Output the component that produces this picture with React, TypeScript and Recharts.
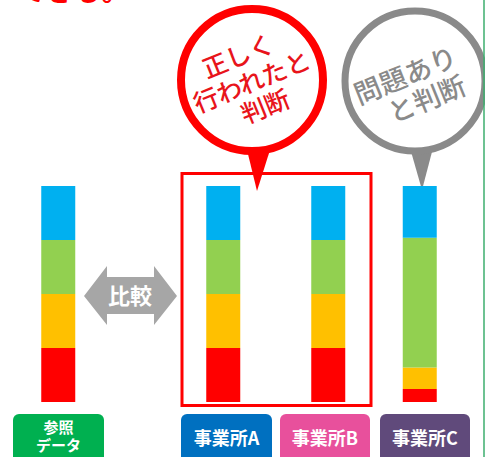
import { BarChart, Bar, XAxis, YAxis } from "recharts"

// four sites, drawn left to right
const sites = ["参照データ", "事業所A", "事業所B", "事業所C"]
// horizontal centre of each column (px on a 0..485 axis)
const sitePos = [58, 223, 328, 419.5]

// shares per column, bottom to top
const redShare = [25, 25, 25, 6]
const orangeShare = [25, 25, 25, 10]
const greenShare = [25, 25, 25, 60]
const blueShare = [25, 25, 25, 24]

const data = sites.map((name, i) => ({
  name,
  pos: sitePos[i],
  red: redShare[i],
  orange: orangeShare[i],
  green: greenShare[i],
  blue: blueShare[i],
}))

const COLORS = {
  red: "#FF0000",
  orange: "#FFC000",
  green: "#92D050",
  blue: "#00B0F0",
}

const FONT = '"Noto Sans CJK JP", "Noto Sans", sans-serif'

const badges = [
  { lines: ["参照", "データ"], x: 13, w: 91, fill: "#00B050" },
  { lines: ["事業所A"], x: 181, w: 91, fill: "#0070C0" },
  { lines: ["事業所B"], x: 280, w: 90, fill: "#E8509C" },
  { lines: ["事業所C"], x: 380, w: 90, fill: "#604A7B" },
]

function Badge({ lines, x, w, fill }: { lines: string[]; x: number; w: number; fill: string }) {
  const cx = x + w / 2
  return (
    <g>
      <rect x={x} y={414} width={w} height={50} rx={6} fill={fill} />
      {lines.length === 1 ? (
        <text x={cx} y={445} textAnchor="middle" fill="#fff" fontSize={18} fontWeight={700} fontFamily={FONT}>
          {lines[0]}
        </text>
      ) : (
        <text x={cx} textAnchor="middle" fill="#fff" fontSize={15} fontWeight={700} fontFamily={FONT}>
          {lines.map((t, i) => (
            <tspan key={t} x={cx} y={433 + i * 18}>
              {t}
            </tspan>
          ))}
        </text>
      )}
    </g>
  )
}

function Decorations() {
  return (
    <g>
      {/* cut-off heading at the very top */}
      <text x={18} y={1} fill="#FF0000" fontSize={28} fontWeight={700} fontFamily={FONT}>
        できる。
      </text>

      {/* frame around A and B */}
      <rect x={182} y={173.5} width={189} height={232} fill="none" stroke="#FF0000" strokeWidth={3} />

      {/* red speech balloon */}
      <polygon points="247,150 270,150 257,191" fill="#FF0000" />
      <circle cx={252} cy={80} r={71} fill="#fff" stroke="#FF0000" strokeWidth={8} />
      <g transform="rotate(-22 252 82)" fill="#E8141B" fontSize={25} fontWeight={500} fontFamily={FONT} textAnchor="middle">
        <text x={249} y={62}>正しく</text>
        <text x={252} y={91}>行われたと</text>
        <text x={255} y={119}>判断</text>
      </g>

      {/* grey speech balloon */}
      <polygon points="410,148 433,148 422,190" fill="#8A8A8A" />
      <circle cx={415} cy={81} r={70} fill="#fff" stroke="#8A8A8A" strokeWidth={7} />
      <g transform="rotate(-22 414 86)" fill="#8A8A8A" fontSize={27} fontWeight={500} fontFamily={FONT} textAnchor="middle">
        <text x={410} y={83}>問題あり</text>
        <text x={421} y={113}>と判断</text>
      </g>

      {/* compare arrow */}
      <polygon
        points="84,296 107,266 107,277 154,277 154,266 177,296 154,325 154,314 107,314 107,325"
        fill="#A6A6A6"
      />
      <text x={130} y={304} textAnchor="middle" fill="#fff" fontSize={22} fontWeight={700} fontFamily={FONT}>
        比較
      </text>

      {badges.map((b) => (
        <Badge key={b.lines.join("")} {...b} />
      ))}

      {/* right edge rule */}
      <line x1={484} y1={0} x2={484} y2={457} stroke="#3DAE6E" strokeWidth={1.5} />
    </g>
  )
}

export default function App() {
  return (
    <div style={{ position: "absolute", left: 0, top: 0, width: 485, height: 457, background: "#fff" }}>
      <BarChart width={485} height={457} data={data} margin={{ top: 186, right: 0, bottom: 55, left: 0 }}>
        <XAxis dataKey="pos" type="number" domain={[0, 485]} hide />
        <YAxis type="number" domain={[0, 100]} hide />
        <Bar dataKey="red" stackId="s" fill={COLORS.red} barSize={34} isAnimationActive={false} />
        <Bar dataKey="orange" stackId="s" fill={COLORS.orange} barSize={34} isAnimationActive={false} />
        <Bar dataKey="green" stackId="s" fill={COLORS.green} barSize={34} isAnimationActive={false} />
        <Bar dataKey="blue" stackId="s" fill={COLORS.blue} barSize={34} isAnimationActive={false} />
        <Decorations />
      </BarChart>
    </div>
  )
}
